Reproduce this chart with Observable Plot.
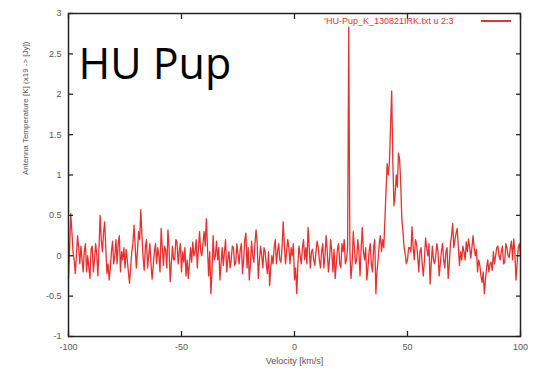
<!DOCTYPE html>
<html><head><meta charset="utf-8">
<script src="https://cdn.jsdelivr.net/npm/d3@7"></script>
<script src="https://cdn.jsdelivr.net/npm/@observablehq/plot@0.6"></script>
<style>
body{margin:0;background:#fff;}
#chart{position:relative;width:545px;height:370px;}
#legline{position:absolute;left:481px;top:20px;width:30px;height:1.5px;background:#e8302f;}
</style></head><body><div id="chart"></div>
<script>
// spectrum: antenna temperature per 0.5 km/s channel, starting at -100 km/s
const velocityStart = -100;
const velocityStep = 0.5;
const temperature = [
  -0.28,0.1,0.52,0.3,0.05,-0.05,-0.22,0.0,0.25,0.1,-0.1,0.12,-0.05,-0.2,0.06,0.15,-0.2,0.0,-0.15,-0.28,
  0.08,0.12,-0.2,-0.05,0.15,0.02,-0.25,0.1,0.5,0.2,0.05,0.28,0.42,0.1,-0.22,-0.1,-0.3,-0.15,0.05,0.18,
  -0.1,0.0,0.2,-0.1,0.15,0.25,-0.2,0.05,-0.05,0.1,-0.15,0.08,-0.05,-0.2,-0.34,-0.15,0.05,0.15,0.38,0.12,
  -0.15,0.05,0.3,0.2,0.57,0.25,-0.02,-0.18,0.1,0.2,-0.15,0.0,0.15,-0.1,-0.29,-0.12,0.05,0.15,-0.1,0.1,
  0.0,-0.2,0.34,0.1,-0.12,0.12,0.07,-0.15,0.32,0.1,-0.32,-0.1,0.12,-0.05,-0.05,0.2,0.17,-0.1,0.05,0.15,
  -0.2,0.05,-0.08,0.1,-0.25,-0.05,-0.28,-0.1,0.1,-0.08,0.17,0.0,0.05,0.2,-0.15,0.1,0.3,0.05,0.0,0.15,
  0.3,0.12,0.46,0.1,-0.25,0.05,-0.47,-0.2,0.25,-0.05,0.0,0.18,-0.05,0.1,-0.3,-0.1,0.1,-0.12,0.05,0.2,
  -0.2,-0.05,0.05,-0.15,-0.05,0.12,0.1,-0.12,-0.08,0.15,0.02,-0.1,0.08,0.15,-0.22,-0.05,0.2,0.28,-0.15,0.1,
  -0.3,-0.1,0.18,0.0,-0.08,0.15,0.32,0.15,-0.28,-0.05,0.12,0.0,-0.15,0.1,0.05,-0.1,-0.22,0.05,-0.37,-0.15,
  0.0,-0.1,0.1,0.2,-0.1,0.05,0.15,-0.05,-0.08,0.1,0.42,0.15,-0.1,0.05,0.2,0.1,-0.1,0.1,0.0,0.15,
  -0.3,-0.15,-0.47,-0.1,0.12,0.0,-0.1,0.1,0.2,-0.05,0.1,-0.1,0.35,0.1,-0.15,0.05,0.08,-0.05,-0.12,0.05,
  0.18,0.1,-0.05,-0.15,0.05,0.15,-0.15,0.0,0.25,0.05,-0.2,-0.05,0.2,0.05,-0.2,0.08,-0.28,-0.1,0.08,0.15,
  -0.1,-0.15,0.15,0.05,0.2,-0.1,-0.05,0.1,2.83,0.05,-0.28,-0.1,0.3,0.1,-0.1,-0.05,0.2,0.05,-0.25,0.1,
  0.35,0.05,-0.05,0.1,-0.3,-0.15,0.05,0.15,-0.1,-0.2,0.1,0.2,-0.47,-0.2,-0.05,0.15,0.25,0.05,0.2,0.1,
  0.44,0.8,1.14,1.0,1.15,1.6,2.04,1.18,0.62,0.75,1.0,0.85,1.27,1.2,0.9,0.45,0.3,0.1,0.02,-0.1,
  -0.05,0.1,0.1,0.05,0.36,0.1,-0.05,0.2,0.15,0.0,-0.2,0.05,0.1,-0.1,-0.25,-0.05,0.22,0.1,0.0,0.15,
  -0.35,-0.1,0.12,-0.05,-0.1,0.0,0.15,0.05,-0.25,-0.1,0.05,0.15,-0.05,-0.15,0.05,0.1,-0.28,-0.1,0.15,0.25,
  0.4,0.1,0.2,0.28,0.34,0.1,-0.12,0.05,-0.05,0.12,0.05,-0.05,0.17,0.05,0.21,0.1,-0.03,0.1,0.25,0.1,
  0.0,0.08,-0.2,-0.05,-0.12,-0.25,-0.33,-0.2,-0.47,-0.3,-0.15,-0.05,-0.2,-0.1,-0.08,-0.18,0.05,-0.1,0.0,0.1,
  0.12,0.0,-0.05,0.05,0.12,-0.1,-0.08,0.15,0.1,0.0,-0.02,0.1,0.18,-0.05,0.21,0.05,-0.3,-0.1,0.1,0.15,
  0.0
];
const xTicks = [-100, -50, 0, 50, 100];
const yTicks = [-1, -0.5, 0, 0.5, 1, 1.5, 2, 2.5, 3];
const title = "HU Pup";
const legendLabel = "'HU-Pup_K_130821IRK.txt u 2:3";
const xLabel = "Velocity [km/s]";
const yLabel = "Antenna Temperature [K] (x19 -> [Jy])";

const velocity = temperature.map((_, i) => velocityStart + i * velocityStep);
const red = "#e8302f";
const axisGray = "#555";

const chart = Plot.plot({
  width: 545,
  height: 370,
  marginLeft: 68,
  marginRight: 25,
  marginTop: 13,
  marginBottom: 34,
  style: {fontFamily: "'Liberation Sans', Arial, sans-serif", background: "#fff"},
  x: {domain: [-100, 100]},
  y: {domain: [-1, 3]},
  marks: [
    Plot.line(temperature, {x: velocity, y: d => d, stroke: red, strokeWidth: 1.3}),
    // inward ticks on all four sides
    Plot.axisX(xTicks, {anchor: "bottom", tickSize: 5, dy: -5, text: null, label: null, stroke: "#222", strokeWidth: 1.3}),
    Plot.axisX(xTicks, {anchor: "top", tickSize: 5, dy: 5, text: null, label: null, stroke: "#222", strokeWidth: 1.3}),
    Plot.axisY(yTicks, {anchor: "left", tickSize: 5, dx: 5, text: null, label: null, stroke: "#222", strokeWidth: 1.3}),
    Plot.axisY(yTicks, {anchor: "right", tickSize: 5, dx: -5, text: null, label: null, stroke: "#222", strokeWidth: 1.3}),
    // tick labels
    Plot.axisX(xTicks, {anchor: "bottom", tickSize: 0, tickPadding: 7, label: null, fontSize: 9, color: axisGray, tickFormat: d => String(d)}),
    Plot.axisY(yTicks, {anchor: "left", tickSize: 0, tickPadding: 7, label: null, fontSize: 9, color: axisGray, tickFormat: d => String(d)}),
    Plot.frame({stroke: "#222", strokeWidth: 1.5}),
    // axis titles
    Plot.text([xLabel], {frameAnchor: "bottom", dy: 25, lineAnchor: "middle", fontSize: 9, fill: axisGray}),
    Plot.text([yLabel], {frameAnchor: "left", dx: -43, rotate: -90, lineAnchor: "middle", fontSize: 8, fill: axisGray}),
    // big title
    Plot.text([title], {frameAnchor: "top-left", dx: 10, dy: 52, lineAnchor: "middle", textAnchor: "start", fontSize: 43, fontFamily: "'Open Sans', sans-serif", fill: "#000"}),
    // legend text
    Plot.text([legendLabel], {frameAnchor: "top-right", dx: -67, dy: 8, lineAnchor: "middle", textAnchor: "end", fontSize: 9, fill: red})
  ]
});
const host = document.getElementById("chart");
host.appendChild(chart);
const leg = document.createElement("div");
leg.id = "legline";
host.appendChild(leg);
</script>
</body></html>
